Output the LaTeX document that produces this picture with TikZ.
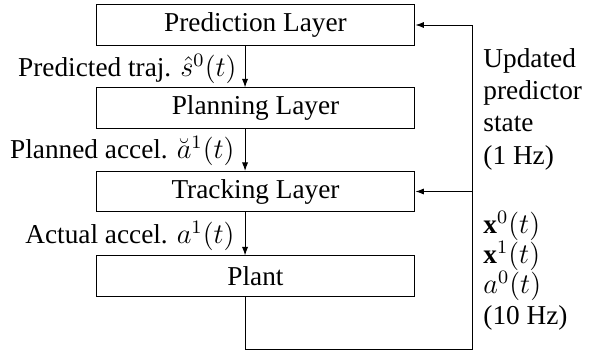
\documentclass[tikz,border=0pt]{standalone}
\usepackage{fontspec}
\setmainfont{Liberation Serif}
\usetikzlibrary{arrows.meta}
\begin{document}
\begin{tikzpicture}[x=0.4214pt,y=-0.4214pt,
  layer/.style={draw, line width=0.4pt, minimum width=134.4pt, minimum height=16.9pt, inner sep=0pt, font=\fontsize{11.5}{13.8}\selectfont},
  lbl/.style={inner sep=0pt, anchor=base east, font=\fontsize{11.5}{13.8}\selectfont},
  side/.style={inner sep=0pt, anchor=base west, align=left},
  arr/.style={line width=0.4pt, -{Latex[length=3.6pt,width=2.6pt]}}]
\useasboundingbox (0,0) rectangle (598,350);
\node[layer] (pred) at (255.5,25) {Prediction Layer};
\node[layer] (plan) at (255.5,108) {Planning Layer};
\node[layer] (track) at (255.5,191.5) {Tracking Layer};
\node[layer] (plant) at (255.5,276) {Plant};
\draw[arr] ([xshift=-4.4pt]pred.south) -- ([xshift=-4.4pt]plan.north);
\draw[arr] ([xshift=-4.4pt]plan.south) -- ([xshift=-4.4pt]track.north);
\draw[arr] ([xshift=-4.4pt]track.south) -- ([xshift=-4.4pt]plant.north);
\node[lbl] (l1) at (237,77) {Predicted traj. $\hat{s}^0(t)$};
\node[lbl] (l2) at (235,159) {Planned accel. $\breve{a}^1(t)$};
\node[lbl] (l3) at (235,244) {Actual accel. $a^1(t)$};
\coordinate (br) at (472,349);
\coordinate (tr) at (472,25);
\draw[arr] ([xshift=-4.4pt]plant.south) |- (br) -- (tr) -- (pred.east);
\draw[arr] (track.east -| br) -- (track.east);
\node[side, font=\fontsize{11.5}{13.5}\selectfont] (rt) at (483,164) {Updated\\predictor\\state\\(1 Hz)};
\node[side, font=\fontsize{11.5}{12.7}\selectfont] (rb) at (483,324) {$\mathbf{x}^0(t)$\\$\mathbf{x}^1(t)$\\$a^0(t)$\\(10 Hz)};
\end{tikzpicture}
\end{document}
